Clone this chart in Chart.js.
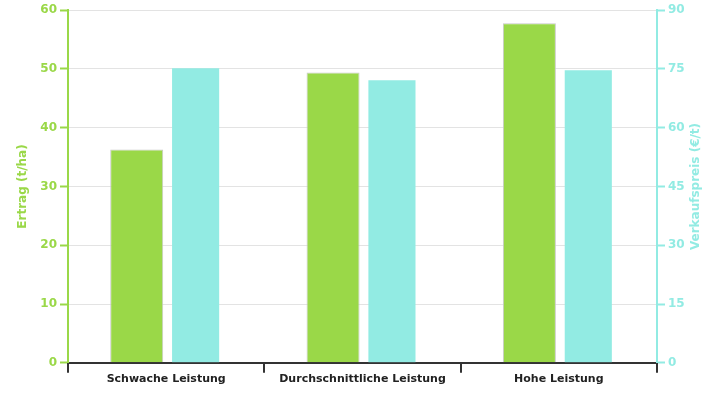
<!DOCTYPE html>
<html>
<head>
<meta charset="utf-8">
<script src="https://cdn.jsdelivr.net/npm/chart.js@4"></script>
<style>
  html, body { margin: 0; padding: 0; background: #fff; }
  #wrap { width: 725px; height: 400px; }
</style>
</head>
<body>
<div id="wrap"><canvas id="barChart"></canvas></div>
<script>
const categories = ['Schwache Leistung', 'Durchschnittliche Leistung', 'Hohe Leistung'];
const ertrag = [36.3, 49.4, 57.8];
const verkaufspreis = [75.2, 72.1, 74.7];

const green = '#9ad848';
const cyan = '#92ebe3';

Chart.defaults.font.family = "'DejaVu Sans', sans-serif";

// right axis title reads bottom-to-top like the left one
const rightTitle = {
    id: 'rightTitle',
    afterDraw(chart) {
        const c = chart.ctx;
        const area = chart.chartArea;
        c.save();
        c.translate(area.right + 39, (area.top + area.bottom) / 2);
        c.rotate(-Math.PI / 2);
        c.fillStyle = cyan;
        c.font = "bold 12px 'DejaVu Sans', sans-serif";
        c.textAlign = 'center';
        c.textBaseline = 'middle';
        c.fillText('Verkaufspreis (€/t)', 0, 0);
        c.restore();
    }
};

const ctx = document.getElementById('barChart').getContext('2d');
const chart = new Chart(ctx, {
    type: 'bar',
    data: {
        labels: categories,
        datasets: [{
            label: 'Ertrag (t/ha)',
            data: ertrag,
            backgroundColor: green,
            borderColor: '#c8c8c8',
            borderWidth: 1,
            yAxisID: 'y',
            barPercentage: 0.9,
            categoryPercentage: 0.6
        }, {
            label: 'Verkaufspreis (€/t)',
            data: verkaufspreis,
            backgroundColor: cyan,
            borderWidth: 0,
            yAxisID: 'y1',
            barPercentage: 0.8,
            categoryPercentage: 0.6
        }]
    },
    options: {
        responsive: true,
        maintainAspectRatio: false,
        animation: false,
        layout: {
            padding: { left: 12, right: 10, top: 10, bottom: 14 }
        },
        plugins: {
            legend: { display: false },
            tooltip: { enabled: false }
        },
        scales: {
            x: {
                grid: {
                    offset: true,
                    drawOnChartArea: false,
                    color: '#333',
                    lineWidth: 2,
                    tickLength: 10
                },
                border: { color: '#333', width: 2 },
                ticks: {
                    padding: 0,
                    color: '#222',
                    font: { size: 11, weight: 'bold' }
                }
            },
            y: {
                position: 'left',
                min: 0,
                max: 60,
                afterFit(scale) { scale.width = 56; },
                ticks: {
                    stepSize: 10,
                    color: green,
                    font: { size: 12, weight: 'bold' }
                },
                grid: {
                    color: '#e3e3e3',
                    tickColor: green,
                    tickLength: 8,
                    tickWidth: 2
                },
                border: { color: green, width: 2 },
                title: {
                    display: true,
                    text: 'Ertrag (t/ha)',
                    color: green,
                    font: { size: 12, weight: 'bold' }
                }
            },
            y1: {
                position: 'right',
                min: 0,
                max: 90,
                afterFit(scale) { scale.width = 58; },
                ticks: {
                    stepSize: 15,
                    color: cyan,
                    font: { size: 12, weight: 'bold' }
                },
                grid: {
                    drawOnChartArea: false,
                    tickColor: cyan,
                    tickLength: 8,
                    tickWidth: 2
                },
                border: { color: cyan, width: 2 }
            }
        }
    },
    plugins: [rightTitle]
});
</script>
</body>
</html>
